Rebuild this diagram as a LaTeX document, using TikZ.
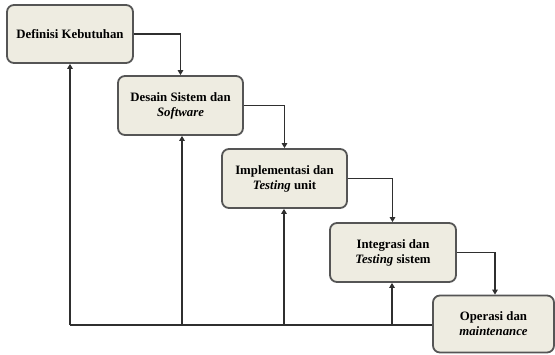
\documentclass[tikz,border=0pt]{standalone}
\usepackage{fontspec}
\setmainfont{Liberation Serif}
\usetikzlibrary{arrows.meta}
\definecolor{boxfill}{HTML}{EEECE1}
\definecolor{boxline}{HTML}{555555}
\definecolor{conn}{HTML}{2F2F2F}
\tikzset{
  stage/.style={draw=boxline, line width=1.8pt, fill=boxfill, rounded corners=7pt, align=center, font=\fontsize{12.8}{15}\selectfont\bfseries},
  flow/.style={draw=conn, line width=1.5pt, -{Triangle[length=5pt,width=5.5pt]}},
  plain/.style={draw=conn, line width=1.5pt}
}
\begin{document}
\begin{tikzpicture}[x=1pt,y=-1pt]
\useasboundingbox (0,0) rectangle (555,354);
\node[stage, minimum width=126pt, minimum height=58pt] (a) at (70,34) {Definisi Kebutuhan};
\node[stage, minimum width=125pt, minimum height=59pt] (b) at (180.5,105.5) {Desain Sistem dan\\\textit{Software}};
\node[stage, minimum width=125pt, minimum height=59pt] (c) at (284.5,178.5) {Implementasi dan\\\textit{Testing} unit};
\node[stage, minimum width=126pt, minimum height=59pt] (d) at (393,252.5) {Integrasi dan\\\textit{Testing} sistem};
\node[stage, minimum width=121pt, minimum height=57pt] (e) at (493.5,324) {Operasi dan\\\textit{maintenance}};
\coordinate (p1) at (70,325);
\coordinate (p2) at (182,325);
\coordinate (p3) at (284,325);
\coordinate (p4) at (392,325);
\path[flow] (a.east) -| (b.north);
\path[flow] (b.east) -| ([xshift=104pt]b.south |- c.north);
\path[flow] (c.east) -| ([xshift=108pt]c.south |- d.north);
\path[flow] (d.east) -| ([xshift=102pt]d.south |- e.north);
\path[plain] (e.west |- p1) -- (p1);
\path[flow] (p1) -- (p1 |- a.south);
\path[flow] (p2) -- (p2 |- b.south);
\path[flow] (p3) -- (p3 |- c.south);
\path[flow] (p4) -- (p4 |- d.south);
\end{tikzpicture}
\end{document}
